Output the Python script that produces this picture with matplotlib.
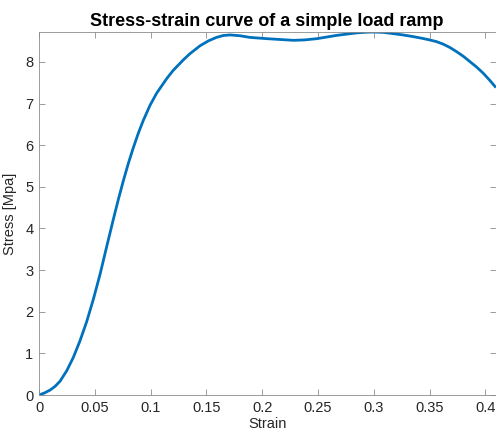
import matplotlib.pyplot as plt
import numpy as np

plt.rcParams['font.family'] = ['Liberation Sans', 'DejaVu Sans']

# values
strain = [0, 0.001, 0.005, 0.01, 0.0145, 0.0188, 0.0248, 0.0307, 0.0367, 0.0427,
          0.0487, 0.0547, 0.0606, 0.0666, 0.0711, 0.0755, 0.080, 0.0845, 0.089,
          0.0935, 0.0995, 0.1054, 0.1144, 0.1203, 0.1293, 0.1353, 0.1443, 0.152,
          0.159, 0.165, 0.171, 0.18, 0.189, 0.204, 0.216, 0.228, 0.238, 0.249,
          0.258, 0.267, 0.276, 0.285, 0.293, 0.300, 0.309, 0.3175, 0.326, 0.335,
          0.343, 0.350, 0.356, 0.362, 0.368, 0.374, 0.380, 0.386, 0.392, 0.398,
          0.4035, 0.4086]
stress = [0, 0.01, 0.05, 0.12, 0.21, 0.33, 0.58, 0.90, 1.30, 1.76,
          2.30, 2.90, 3.56, 4.22, 4.70, 5.14, 5.56, 5.94, 6.29,
          6.60, 6.96, 7.25, 7.60, 7.80, 8.05, 8.20, 8.39, 8.51,
          8.59, 8.635, 8.65, 8.63, 8.59, 8.56, 8.54, 8.52, 8.53, 8.56,
          8.60, 8.64, 8.67, 8.70, 8.715, 8.72, 8.71, 8.68, 8.65, 8.61,
          8.57, 8.53, 8.49, 8.43, 8.35, 8.25, 8.14, 8.01, 7.88, 7.73,
          7.57, 7.41]

fig = plt.figure(figsize=(4.96, 4.36), dpi=100)
ax = fig.add_axes([39/496, 41/436, 456.5/496, 363/436])

ax.plot(strain, stress, color='#0072BD', linewidth=2)

ax.set_xlim(0, 0.409)
ax.set_ylim(0, max(stress))
ax.set_xticks(np.arange(0, 0.41, 0.05))
ax.set_xticklabels(['0', '0.05', '0.1', '0.15', '0.2', '0.25', '0.3', '0.35', '0.4'])
ax.set_yticks(range(0, 9))

ax.set_xlabel('Strain', fontsize=10.5, color='#262626', labelpad=2)
ax.set_ylabel('Stress [Mpa]', fontsize=10.5, color='#262626', labelpad=6)
ax.set_title('Stress-strain curve of a simple load ramp', fontsize=13,
             fontweight='bold', pad=4)

for s in ax.spines.values():
    s.set_color('#8c8c8c')
    s.set_linewidth(0.6)
ax.tick_params(direction='in', length=4, width=0.6, color='#8c8c8c',
               labelcolor='#262626', labelsize=10.5, top=True, right=True, pad=4)

fig.savefig('out.png', dpi=100)
